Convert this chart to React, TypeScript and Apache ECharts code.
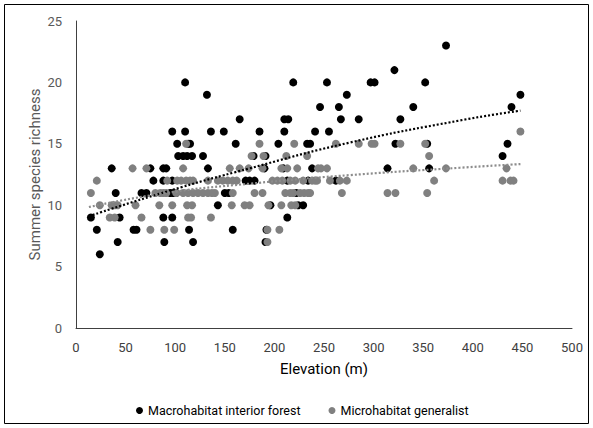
import React, { useEffect, useRef } from "react";
import * as echarts from "echarts";

// Macrohabitat interior forest: [elevation, richness]
const macroPoints: number[][] = [
  [373, 23],
  [321, 21],
  [110, 20], [219, 20], [253, 20], [297, 20], [301, 20], [352, 20],
  [132, 19], [273, 19], [448, 19],
  [246, 18], [265, 18], [340, 18], [439, 18],
  [165, 17], [210, 17], [214, 17], [267, 17], [285, 17], [327, 17],
  [97, 16], [110, 16], [136, 16], [149, 16], [185, 16], [210, 16], [241, 16], [255, 16],
  [102, 15], [113, 15], [115, 15], [161, 15], [204, 15], [233, 15], [236, 15], [322, 15], [354, 15], [435, 15],
  [103, 14], [108, 14], [112, 14], [117, 14], [128, 14], [179, 14], [191, 14], [430, 14],
  [36, 13], [75, 13], [88, 13], [91, 13], [133, 13], [190, 13], [209, 13], [238, 13], [314, 13], [356, 13],
  [78, 12], [88, 12], [97, 12], [171, 12], [175, 12], [180, 12], [213, 12], [234, 12], [262, 12],
  [40, 11], [66, 11], [71, 11], [95, 11], [98, 11], [101, 11], [150, 11], [154, 11], [222, 11],
  [143, 10], [196, 10], [224, 10], [229, 10],
  [15, 9], [44, 9], [88, 9], [97, 9], [213, 9],
  [21, 8], [58, 8], [61, 8], [114, 8], [158, 8], [192, 8],
  [42, 7], [89, 7], [118, 7], [191, 7],
  [24, 6],
];

// Microhabitat generalist: [elevation, richness]
const microPoints: number[][] = [
  [448, 16],
  [111, 15], [185, 15], [220, 15], [262, 15], [285, 15], [298, 15], [301, 15], [327, 15], [352, 15],
  [177, 14], [189, 14], [212, 14], [233, 14], [356, 14],
  [57, 13], [71, 13], [108, 13], [155, 13], [165, 13], [174, 13], [188, 13], [207, 13], [213, 13],
  [223, 13], [244, 13], [247, 13], [253, 13], [340, 13], [373, 13], [434, 13],
  [21, 12], [92, 12], [102, 12], [106, 12], [111, 12], [115, 12], [118, 12], [133, 12], [143, 12],
  [148, 12], [153, 12], [158, 12], [162, 12], [198, 12], [203, 12], [208, 12], [216, 12], [221, 12],
  [229, 12], [238, 12], [241, 12], [243, 12], [256, 12], [266, 12], [273, 12], [361, 12], [430, 12],
  [438, 12], [441, 12],
  [15, 11], [80, 11], [85, 11], [88, 11], [91, 11], [101, 11], [108, 11], [113, 11], [118, 11],
  [123, 11], [128, 11], [133, 11], [137, 11], [140, 11], [158, 11], [180, 11], [188, 11], [211, 11],
  [216, 11], [219, 11], [226, 11], [230, 11], [234, 11], [236, 11], [268, 11], [314, 11], [322, 11], [354, 11],
  [24, 10], [36, 10], [39, 10], [42, 10], [60, 10], [84, 10], [97, 10], [112, 10], [117, 10],
  [157, 10], [170, 10], [175, 10], [194, 10], [207, 10], [217, 10], [221, 10],
  [34, 9], [39, 9], [66, 9], [113, 9], [116, 9], [136, 9],
  [75, 8], [89, 8], [99, 8], [193, 8], [205, 8],
  [193, 7],
];

// Trendlines
const macroTrend: number[][] = [
  [13, 9.1], [91, 11.1], [175, 13.0], [276, 15.1], [387, 16.9], [448, 17.7],
];
const microTrend: number[][] = [
  [13, 9.85], [91, 11.0], [175, 11.75], [276, 12.45], [387, 13.05], [448, 13.35],
];

const xTicks = { min: 0, max: 500, interval: 50 };
const yTicks = { min: 0, max: 25, interval: 5 };

const FONT = "Roboto, 'Open Sans', sans-serif";

export default function App() {
  const ref = useRef<HTMLDivElement>(null);

  useEffect(() => {
    document.body.style.margin = "0";
    if (!ref.current) return;
    const chart = echarts.init(ref.current, null, { renderer: "svg" });
    chart.setOption({
      animation: false,
      backgroundColor: "#ffffff",
      textStyle: { fontFamily: FONT },
      graphic: [
        {
          type: "rect",
          shape: { x: 4.5, y: 4.5, width: 584, height: 419 },
          style: { fill: "none", stroke: "#000000", lineWidth: 1 },
          silent: true,
          z: 100,
        },
      ],
      grid: { left: 76, right: 21, top: 21, bottom: 100, containLabel: false },
      legend: {
        data: ["Macrohabitat interior forest", "Microhabitat generalist"],
        left: 131,
        top: 399,
        itemWidth: 7,
        itemHeight: 7,
        itemGap: 28,
        icon: "circle",
        textStyle: { fontSize: 12.5, color: "#000000", fontFamily: FONT },
      },
      xAxis: {
        type: "value",
        ...xTicks,
        name: "Elevation (m)",
        nameLocation: "middle",
        nameGap: 33,
        nameTextStyle: { fontSize: 15, color: "#000000", fontFamily: FONT },
        axisLine: { show: true, lineStyle: { color: "#404040", width: 1 } },
        axisTick: { show: false },
        splitLine: { show: false },
        axisLabel: { color: "#404040", fontSize: 13, margin: 13, fontFamily: FONT },
      },
      yAxis: {
        type: "value",
        ...yTicks,
        name: "Summer species richness",
        nameLocation: "middle",
        nameGap: 34,
        nameMoveOverlap: false,
        nameTextStyle: { fontSize: 15, color: "#595959", fontFamily: FONT },
        axisLine: { show: true, lineStyle: { color: "#404040", width: 1 } },
        axisTick: { show: false },
        splitLine: { show: false },
        axisLabel: { color: "#595959", fontSize: 13, margin: 14, fontFamily: FONT },
      },
      series: [
        {
          name: "Macrohabitat interior forest",
          type: "scatter",
          data: macroPoints,
          symbolSize: 8,
          itemStyle: { color: "#000000", opacity: 1 },
          z: 2,
        },
        {
          name: "Microhabitat generalist",
          type: "scatter",
          data: microPoints,
          symbolSize: 8,
          itemStyle: { color: "#808080", opacity: 1 },
          z: 3,
        },
        {
          name: "macroTrend",
          type: "line",
          data: macroTrend,
          smooth: true,
          showSymbol: false,
          silent: true,
          lineStyle: { color: "#000000", width: 2.2, type: [2, 2] },
          z: 5,
        },
        {
          name: "microTrend",
          type: "line",
          data: microTrend,
          smooth: true,
          showSymbol: false,
          silent: true,
          lineStyle: { color: "#8c8c8c", width: 2.2, type: [2, 2] },
          z: 5,
        },
      ],
    });
    return () => chart.dispose();
  }, []);

  return <div ref={ref} style={{ width: 593, height: 428 }} />;
}
